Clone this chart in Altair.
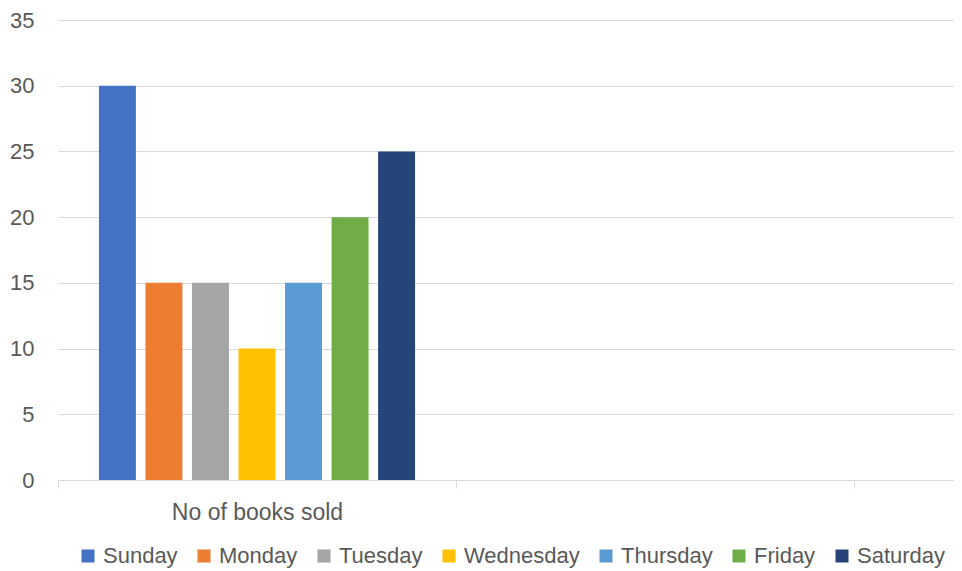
import altair as alt
import pandas as pd

days = ["Sunday", "Monday", "Tuesday", "Wednesday", "Thursday", "Friday", "Saturday"]
books_sold = [30, 15, 15, 10, 15, 20, 25]
colors = ["#4472C4", "#ED7D31", "#A5A5A5", "#FFC000", "#5B9BD5", "#70AD47", "#264478"]
categories = ["No of books sold", "cat2", "cat3"]
y_ticks = [0, 5, 10, 15, 20, 25, 30, 35]

df = pd.DataFrame({"group": [categories[0]] * len(days), "day": days, "value": books_sold})

FONT = "Liberation Sans"
GRAY = "#595959"
GRID = "#d9d9d9"

chart = alt.Chart(df).mark_bar().encode(
    x=alt.X(
        "group:N",
        scale=alt.Scale(domain=categories, range=[0, 1194], paddingInner=0, paddingOuter=0),
        axis=alt.Axis(
            title=None, labelAngle=0,
            labelExpr="datum.value == 'No of books sold' ? datum.value : ''",
            tickBand="extent", domainColor=GRID, tickColor=GRID, tickSize=8,
            labelPadding=13, labelFontSize=23, labelColor=GRAY, labelFont=FONT,
            grid=False,
        ),
    ),
    xOffset=alt.XOffset("day:N", sort=days, scale=alt.Scale(paddingInner=0.206, paddingOuter=0.88)),
    y=alt.Y(
        "value:Q",
        scale=alt.Scale(domain=[0, 35], nice=False),
        axis=alt.Axis(
            title=None, values=y_ticks, domain=False, ticks=False,
            gridColor=GRID, gridWidth=1, labelPadding=24, labelFontSize=22,
            labelColor=GRAY, labelFont=FONT,
        ),
    ),
    color=alt.Color(
        "day:N", sort=days,
        scale=alt.Scale(domain=days, range=colors),
        legend=alt.Legend(
            title=None, orient="none", direction="horizontal", columns=7,
            legendX=19, legendY=525, symbolType="square", symbolSize=169,
            symbolStrokeWidth=0, labelFontSize=22, labelColor=GRAY, labelFont=FONT,
            labelOffset=4, columnPadding=15, padding=0,
        ),
    ),
).properties(
    width=896, height=460,
    autosize=alt.AutoSizeParams(type="none"),
    padding={"left": 50, "top": 12, "right": 0, "bottom": 91},
).configure_view(stroke=None)

chart.save("out.html", embed_options={"renderer": "svg", "actions": False})
